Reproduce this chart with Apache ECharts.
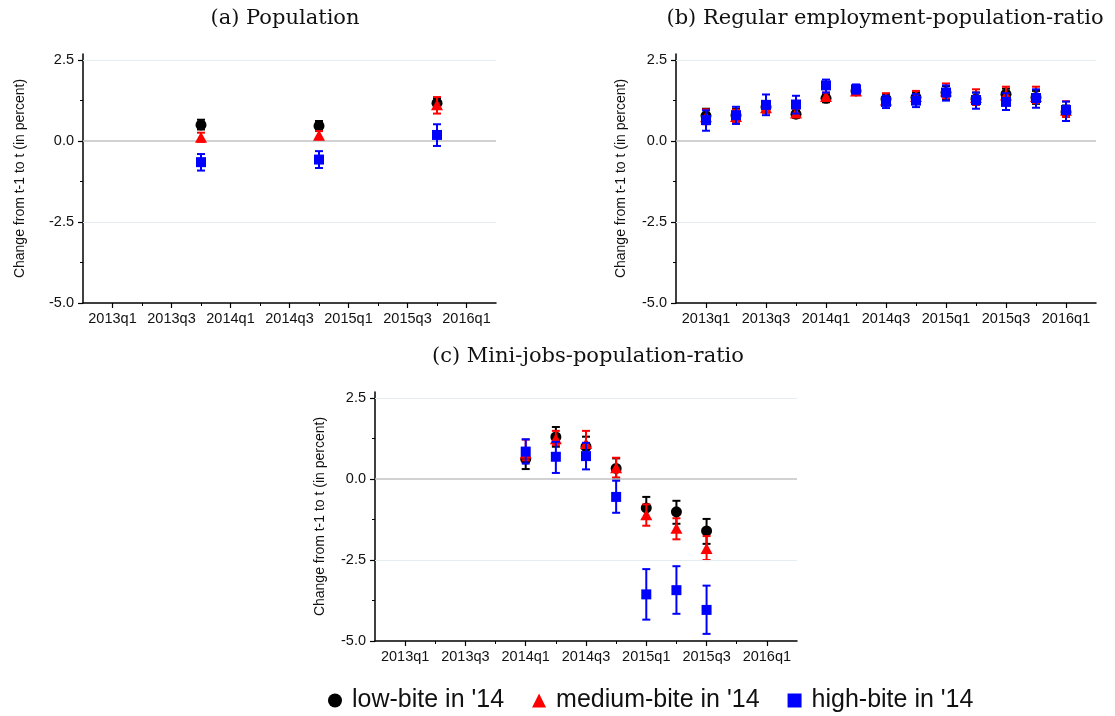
<!DOCTYPE html>
<html><head><meta charset="utf-8">
<script src="https://cdn.jsdelivr.net/npm/echarts@6/dist/echarts.min.js"></script>
<style>html,body{margin:0;padding:0;background:#fff}#c{width:1115px;height:716px}</style>
</head><body><div id="c"></div>
<script>
// ---- categories / ticks ----
const quarters = ['2013q1','2013q2','2013q3','2013q4','2014q1','2014q2','2014q3','2014q4','2015q1','2015q2','2015q3','2015q4','2016q1'];
const xLabelIdx = [0,2,4,6,8,10,12];
const xMinorIdx = [1,3,5,7,9,11];
const yTicks = [-5,-2.5,0,2.5];
const yMinorTicks = [-3.75,-1.25,1.25];
const groupNames = ["low-bite in '14", "medium-bite in '14", "high-bite in '14"];
const panelTitles = ['(a) Population', '(b) Regular employment-population-ratio', '(c) Mini-jobs-population-ratio'];
const yAxisTitle = 'Change from t-1 to t (in percent)';

// ---- data: per quarter [estimate, lower, upper] ----
const popLow  = [null,null,null,[0.50,0.36,0.66],null,null,null,[0.47,0.33,0.62],null,null,null,[1.17,1.02,1.33],null];
const popMid  = [null,null,null,[0.12,-0.02,0.26],null,null,null,[0.18,0.04,0.31],null,null,null,[1.12,0.85,1.36],null];
const popHigh = [null,null,null,[-0.65,-0.91,-0.40],null,null,null,[-0.57,-0.83,-0.31],null,null,null,[0.19,-0.15,0.52],null];

const regLow  = [[0.78,0.55,1.00],[0.80,0.60,1.00],[1.05,0.88,1.22],[0.83,0.72,0.95],[1.32,1.20,1.45],[1.55,1.45,1.65],[1.30,1.15,1.42],[1.35,1.20,1.50],[1.50,1.30,1.70],[1.30,1.12,1.50],[1.45,1.22,1.62],[1.35,1.15,1.55],[0.90,0.75,1.10]];
const regMid  = [[0.75,0.52,0.98],[0.76,0.55,0.97],[1.03,0.88,1.20],[0.87,0.75,1.00],[1.38,1.25,1.50],[1.55,1.45,1.68],[1.27,1.12,1.48],[1.38,1.20,1.55],[1.55,1.32,1.78],[1.35,1.12,1.60],[1.42,1.15,1.68],[1.38,1.18,1.68],[0.95,0.75,1.23]];
const regHigh = [[0.65,0.32,0.95],[0.80,0.53,1.06],[1.12,0.80,1.44],[1.13,0.85,1.40],[1.72,1.50,1.90],[1.60,1.47,1.75],[1.21,1.02,1.40],[1.25,1.05,1.45],[1.50,1.25,1.72],[1.27,1.00,1.50],[1.21,0.96,1.48],[1.33,1.03,1.60],[0.96,0.62,1.22]];

const miniLow  = [null,null,null,null,[0.62,0.31,0.93],[1.30,1.00,1.61],[1.00,0.70,1.31],[0.33,0.02,0.64],[-0.89,-1.21,-0.55],[-1.01,-1.38,-0.67],[-1.60,-2.00,-1.23],null,null];
const miniMid  = [null,null,null,null,[0.80,0.58,1.22],[1.25,1.05,1.49],[1.10,0.75,1.49],[0.35,0.05,0.66],[-1.10,-1.44,-0.78],[-1.52,-1.86,-1.21],[-2.14,-2.50,-1.76],null,null];
const miniHigh = [null,null,null,null,[0.85,0.48,1.23],[0.69,0.19,1.15],[0.71,0.30,1.12],[-0.55,-1.04,-0.05],[-3.56,-4.34,-2.78],[-3.43,-4.16,-2.69],[-4.04,-4.78,-3.29],null,null];

// ---- layout / style ----
const colors = ['#000000', '#ff0000', '#0000ff'];
const symbols = ['circle', 'triangle', 'rect'];
const symbolSizes = [11, [12, 11], 10];
const panels = [
  {grid:{left:83, top:54, width:413, height:249}, nameGap:56, title:[285,19], data:[popLow,popMid,popHigh]},
  {grid:{left:676, top:54, width:420, height:249}, nameGap:48, title:[885,19], data:[regLow,regMid,regHigh]},
  {grid:{left:375, top:392, width:422, height:249}, nameGap:48, title:[588,357], data:[miniLow,miniMid,miniHigh]}
];
const sans = 'Liberation Sans, Arial, Helvetica, sans-serif';
const axisFont = 14.5;

const grid = [], xAxis = [], yAxis = [], series = [], graphic = [];
panels.forEach((p, pi) => {
  grid.push(Object.assign({containLabel:false}, p.grid));
  xAxis.push({type:'value', gridIndex:pi, min:-1, max:13, position:'bottom',
    axisLine:{onZero:false, lineStyle:{color:'#000', width:1.5}},
    axisTick:{customValues:xLabelIdx, length:5, lineStyle:{color:'#000', width:1.2}},
    axisLabel:{customValues:xLabelIdx, formatter:v => quarters[v], color:'#111', fontSize:axisFont, fontFamily:sans, margin:8},
    splitLine:{show:false}});
  xAxis.push({type:'value', gridIndex:pi, min:-1, max:13, position:'bottom',
    axisLine:{show:false, onZero:false},
    axisTick:{customValues:xMinorIdx, length:3, lineStyle:{color:'#000', width:1}},
    axisLabel:{show:false}, splitLine:{show:false}});
  yAxis.push({type:'value', gridIndex:pi, min:-5, max:2.69, position:'left',
    name:yAxisTitle, nameLocation:'middle', nameGap:p.nameGap,
    nameTextStyle:{fontSize:14, fontFamily:sans, color:'#111'},
    axisLine:{onZero:false, lineStyle:{color:'#000', width:1.5}},
    axisTick:{customValues:yTicks, length:5, lineStyle:{color:'#000', width:1.2}},
    axisLabel:{customValues:yTicks, formatter:v => v.toFixed(1), color:'#111', fontSize:axisFont, fontFamily:sans, margin:9},
    splitLine:{show:false}});
  yAxis.push({type:'value', gridIndex:pi, min:-5, max:2.69, position:'left',
    axisLine:{show:false, onZero:false},
    axisTick:{customValues:yMinorTicks, length:3, lineStyle:{color:'#000', width:1}},
    axisLabel:{show:false}, splitLine:{show:false}});
  const xi = pi*2, yi = pi*2;
  // reference lines
  series.push({type:'scatter', xAxisIndex:xi, yAxisIndex:yi, data:[], z:1, silent:true,
    markLine:{silent:true, symbol:'none', label:{show:false}, animation:false,
      data:[
        {yAxis:2.5, lineStyle:{color:'#e4eef1', width:1, type:'solid'}},
        {yAxis:-2.5, lineStyle:{color:'#e4eef1', width:1, type:'solid'}},
        {yAxis:0, lineStyle:{color:'#c2c2c2', width:1.5, type:'solid'}}
      ]}});
  p.data.forEach((arr, gi) => {
    const col = colors[gi];
    const errData = [], ptData = [];
    arr.forEach((d, qi) => { if (d) { errData.push([qi, d[1], d[2]]); ptData.push([qi, d[0]]); } });
    series.push({type:'custom', xAxisIndex:xi, yAxisIndex:yi, z:2 + gi*2, silent:true,
      data:errData, encode:{x:0, y:[1,2]},
      renderItem:(params, api) => {
        const x = api.value(0);
        const a = api.coord([x, api.value(1)]), b = api.coord([x, api.value(2)]);
        const w = 4, st = {stroke:col, lineWidth:2};
        return {type:'group', children:[
          {type:'line', shape:{x1:a[0], y1:a[1], x2:b[0], y2:b[1]}, style:st},
          {type:'line', shape:{x1:a[0]-w, y1:a[1], x2:a[0]+w, y2:a[1]}, style:st},
          {type:'line', shape:{x1:b[0]-w, y1:b[1], x2:b[0]+w, y2:b[1]}, style:st}
        ]};
      }});
    series.push({type:'scatter', name:groupNames[gi], xAxisIndex:xi, yAxisIndex:yi, z:3 + gi*2,
      data:ptData, symbol:symbols[gi], symbolSize:symbolSizes[gi],
      itemStyle:{color:col, opacity:1}});
  });
  graphic.push({type:'text', x:p.title[0], y:p.title[1],
    style:{text:panelTitles[pi], font:'21px "DejaVu Serif", serif', fill:'#111', textAlign:'center', textVerticalAlign:'middle'}});
});

const chart = echarts.init(document.getElementById('c'), null, {renderer:'canvas'});
chart.setOption({
  animation:false,
  backgroundColor:'#fff',
  grid, xAxis, yAxis, series, graphic,
  legend:{left:328, top:688, padding:0, itemWidth:14, itemHeight:14, itemGap:28,
    data:groupNames.map((n, i) => ({name:n, icon:symbols[i]})),
    textStyle:{fontSize:25, fontFamily:sans, color:'#111', padding:[0,0,0,5]},
    selectedMode:false}
});
</script></body></html>
